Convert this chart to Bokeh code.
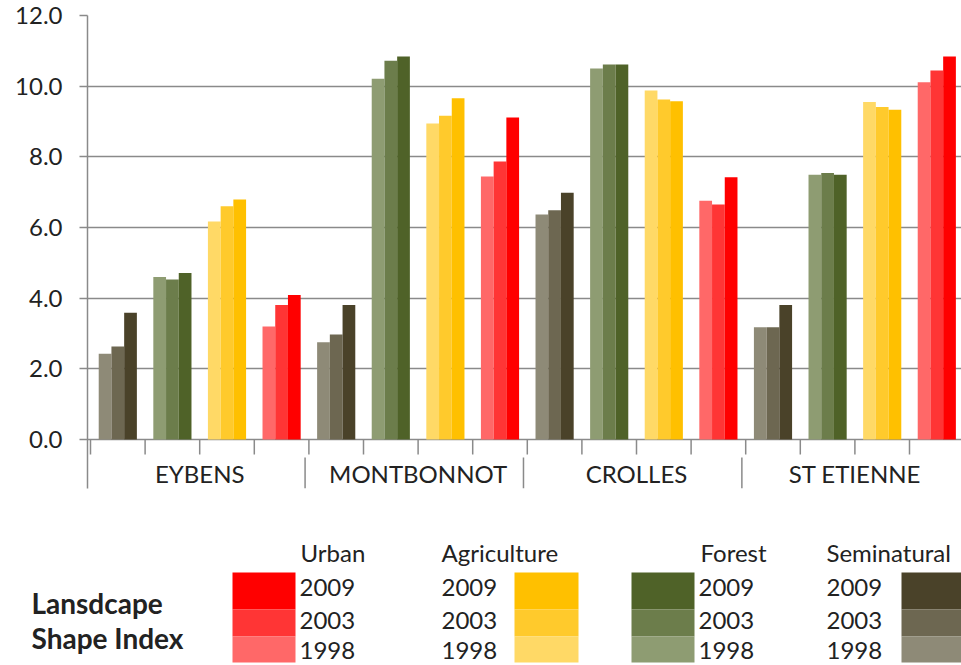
from bokeh.plotting import figure
from bokeh.models import Range1d, FixedTicker, NumeralTickFormatter, ColumnDataSource
from bokeh.layouts import column
from bokeh.core.properties import value
from bokeh.embed import file_html
from bokeh.resources import INLINE

# ---------------- data ----------------
sites = ["EYBENS", "MONTBONNOT", "CROLLES", "ST ETIENNE"]
land_uses = ["Seminatural", "Forest", "Agriculture", "Urban"]
years = ["1998", "2003", "2009"]
y_ticks = [0, 2, 4, 6, 8, 10, 12]

seminatural_1998 = [2.43, 2.75, 6.37, 3.18]
seminatural_2003 = [2.63, 2.97, 6.49, 3.18]
seminatural_2009 = [3.59, 3.81, 6.98, 3.81]
forest_1998 = [4.60, 10.21, 10.50, 7.49]
forest_2003 = [4.53, 10.72, 10.61, 7.54]
forest_2009 = [4.71, 10.84, 10.61, 7.49]
agriculture_1998 = [6.17, 8.94, 9.88, 9.55]
agriculture_2003 = [6.60, 9.16, 9.62, 9.41]
agriculture_2009 = [6.79, 9.66, 9.57, 9.33]
urban_1998 = [3.20, 7.44, 6.76, 10.11]
urban_2003 = [3.81, 7.87, 6.65, 10.44]
urban_2009 = [4.09, 9.11, 7.42, 10.84]

series = {
    "Seminatural": [seminatural_1998, seminatural_2003, seminatural_2009],
    "Forest": [forest_1998, forest_2003, forest_2009],
    "Agriculture": [agriculture_1998, agriculture_2003, agriculture_2009],
    "Urban": [urban_1998, urban_2003, urban_2009],
}

colors = {
    "Seminatural": ["#8e8a77", "#6d6751", "#4a4229"],
    "Forest": ["#8e9c72", "#6c7d4b", "#4f6228"],
    "Agriculture": ["#ffd966", "#ffca2c", "#ffc000"],
    "Urban": ["#ff6868", "#ff3535", "#ff0000"],
}

legend_title = ["Lansdcape", "Shape Index"]

FONT = "Lato"
TEXT_COLOR = "#222222"
GRID_COLOR = "#8a8a8a"

W = 961
TOP_H = 490
LEG_H = 174

# ---------------- bars ----------------
bar_w = 0.233
xs, tops, fills = [], [], []
n_lu = len(land_uses)
for s_i, site in enumerate(sites):
    for l_i, lu in enumerate(land_uses):
        for k, yr in enumerate(years):
            xs.append(n_lu * s_i + l_i + 0.5 + (k - 1) * bar_w)
            tops.append(series[lu][k][s_i])
            fills.append(colors[lu][k])
bars = ColumnDataSource(dict(x=xs, top=tops, color=fills))

px_per_unit = 424 / 12.0
y_bottom = -49 / px_per_unit
x_px = 54.6
x_start = -3 / x_px
x_end = x_start + (W - 87) / x_px

p = figure(width=W, height=TOP_H, output_backend="svg", toolbar_location=None,
           x_range=Range1d(x_start, x_end), y_range=Range1d(y_bottom, 12),
           x_axis_type=None, min_border_left=87, min_border_right=0,
           min_border_top=15, min_border_bottom=2)
p.frame_align = False
p.outline_line_color = None
p.background_fill_color = "white"
p.border_fill_color = "white"

p.vbar(x="x", top="top", bottom=0, width=bar_w, color="color", line_color=None, source=bars)

yax = p.yaxis[0]
yax.ticker = FixedTicker(ticks=y_ticks)
yax.formatter = NumeralTickFormatter(format="0.0")
yax.major_label_text_font = FONT
yax.major_label_text_font_size = "24px"
yax.major_label_text_color = TEXT_COLOR
yax.major_label_standoff = 17
yax.major_tick_out = 8
yax.major_tick_in = 0
yax.minor_tick_line_color = None
yax.axis_line_color = GRID_COLOR
yax.axis_line_width = 1.5
yax.major_tick_line_color = GRID_COLOR
yax.major_tick_line_width = 1.5
p.ygrid.grid_line_color = GRID_COLOR
p.ygrid.grid_line_width = 1.5

# category boundary ticks (inner row) and site separators (outer row)
n_groups = len(sites) * n_lu
bounds = list(range(n_groups + 1))
p.segment(x0=bounds, x1=bounds, y0=[0] * len(bounds), y1=[-15 / px_per_unit] * len(bounds),
          line_color=GRID_COLOR, line_width=1.5)
seps = [n_lu * i - 0.07 for i in range(1, len(sites))]
p.segment(x0=seps, x1=seps, y0=[-18 / px_per_unit] * len(seps), y1=[y_bottom] * len(seps),
          line_color=GRID_COLOR, line_width=1.5)
site_x = [n_lu * i + n_lu / 2 for i in range(len(sites))]
p.text(x=site_x, y=[-34 / px_per_unit] * len(sites), text=sites,
       text_font=value(FONT), text_font_size="24px", text_color=TEXT_COLOR,
       text_align="center", text_baseline="middle")

# ---------------- legend panel ----------------
lg = figure(width=W, height=LEG_H, output_backend="svg", toolbar_location=None,
            x_range=Range1d(0, W), y_range=Range1d(LEG_H, 0),
            x_axis_type=None, y_axis_type=None, min_border=0,
            min_border_left=0, min_border_right=0, min_border_top=0, min_border_bottom=0)
lg.frame_align = False
lg.outline_line_color = None
lg.xgrid.visible = False
lg.ygrid.visible = False

lg.text(x=[31, 31], y=[112, 147], text=legend_title,
        text_font=value(FONT), text_font_style="bold", text_font_size="28px",
        text_color=TEXT_COLOR, text_align="left", text_baseline="middle")

# (land use, swatch left, swatch right, year text x, header x)
legend_cols = [
    ("Urban", 232, 295, 299, 300),
    ("Agriculture", 514, 578, 441, 441),
    ("Forest", 631, 694, 698, 700),
    ("Seminatural", 901, 964, 826, 826),
]
row_tops = [82, 119, 146]       # rows from newest (2009) to oldest (1998)
row_bottoms = [119, 146, 172]
row_mid = [96.5, 129.5, 160]

for lu, sl, sr, tx, hx in legend_cols:
    rev_years = years[::-1]
    rev_cols = colors[lu][::-1]
    lg.quad(left=[sl] * 3, right=[sr] * 3, top=row_tops, bottom=row_bottoms,
            color=rev_cols, line_color=None)
    lg.text(x=[tx] * 3, y=row_mid, text=rev_years, text_font=value(FONT),
            text_font_size="24px", text_color=TEXT_COLOR,
            text_align="left", text_baseline="middle")
    lg.text(x=[hx], y=[62], text=[lu], text_font=value(FONT),
            text_font_size="24px", text_color=TEXT_COLOR,
            text_align="left", text_baseline="middle")

layout = column(p, lg, spacing=0)
open("out.html", "w").write(file_html(layout, INLINE))
